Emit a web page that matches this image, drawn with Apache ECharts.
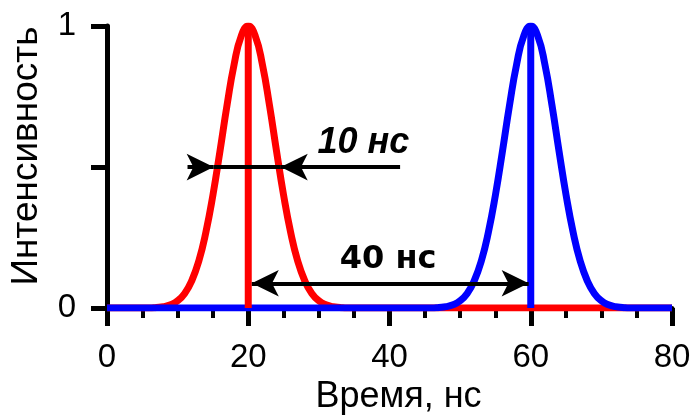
<!DOCTYPE html>
<html>
<head>
<meta charset="utf-8">
<script src="https://cdn.jsdelivr.net/npm/echarts@6/dist/echarts.min.js"></script>
<style>
  html, body { margin: 0; padding: 0; background: #fff; }
  #chart { width: 697px; height: 420px; }
</style>
</head>
<body>
<div id="chart"></div>
<script>
// время, нс и интенсивность (оценено по картинке)
var redTimes = [0, 6, 7, 8, 9, 10, 11, 12, 13, 14, 15, 16, 17, 18, 19, 20,
  21, 22, 23, 24, 25, 26, 27, 28, 29, 30, 31, 32, 33, 34, 80];
var redValues = [0, 0, 0.002, 0.005, 0.012, 0.026, 0.052, 0.097, 0.167, 0.269, 0.401, 0.557, 0.72, 0.864, 0.964, 1,
  0.964, 0.864, 0.72, 0.557, 0.401, 0.269, 0.167, 0.097, 0.052, 0.026, 0.012, 0.005, 0.002, 0, 0];
var blueTimes = [0, 46, 47, 48, 49, 50, 51, 52, 53, 54, 55, 56, 57, 58, 59, 60,
  61, 62, 63, 64, 65, 66, 67, 68, 69, 70, 71, 72, 73, 74, 80];
var blueValues = [0, 0, 0.002, 0.005, 0.012, 0.026, 0.052, 0.097, 0.167, 0.269, 0.401, 0.557, 0.72, 0.864, 0.964, 1,
  0.964, 0.864, 0.72, 0.557, 0.401, 0.269, 0.167, 0.097, 0.052, 0.026, 0.012, 0.005, 0.002, 0, 0];
var redPeak = 20;
var bluePeak = 60;
var xTicks = [0, 20, 40, 60, 80];
var yTicks = [0, 0.5, 1];
// стрелки: полуширина 10 нс и расстояние 40 нс
var fwhmLeft = [11.4, 15.1];
var fwhmRight = [41.5, 24.6];
var fwhmLevel = 0.5;
var gapArrow = [20.5, 59.7];
var gapLevel = 0.088;
var labels = [
  { text: "10 нс", at: [36.3, 0.585], italic: true },
  { text: "40 нс", at: [39.8, 0.172], italic: false }
];

function pairs(xs, ys) {
  return xs.map(function(x, i) { return [x, ys[i]]; });
}

var chart = echarts.init(document.getElementById("chart"));
var black = "#000";
var font = "Liberation Sans";

var option = {
  animation: false,
  grid: { left: 106, right: 25, top: 26, bottom: 110 },
  xAxis: {
    type: "value",
    min: xTicks[0],
    max: xTicks[xTicks.length - 1],
    interval: 20,
    name: "Время, нс",
    nameLocation: "middle",
    nameGap: 67,
    nameTextStyle: { fontFamily: font, fontSize: 36, color: black, padding: [0, 0, 0, 18] },
    axisLine: { show: true, onZero: false, lineStyle: { color: black, width: 5 } },
    axisTick: { show: true, length: 18, lineStyle: { color: black, width: 5 } },
    minorTick: { show: true, splitNumber: 4, length: 10, lineStyle: { color: black, width: 4 } },
    axisLabel: { margin: 33, fontFamily: font, fontSize: 33, color: black },
    splitLine: { show: false }
  },
  yAxis: {
    type: "value",
    min: yTicks[0],
    max: yTicks[yTicks.length - 1],
    interval: 0.5,
    name: "Интенсивность",
    nameLocation: "middle",
    nameGap: 62,
    nameTextStyle: { fontFamily: font, fontSize: 37, color: black, padding: [0, 0, 0, 22] },
    axisLine: { show: true, onZero: false, lineStyle: { color: black, width: 5 } },
    axisTick: { show: true, length: 16, lineStyle: { color: black, width: 5 } },
    axisLabel: {
      margin: 31, fontFamily: font, fontSize: 33, color: black,
      formatter: function(v) { return v === 0.5 ? "" : String(v); }
    },
    splitLine: { show: false }
  },
  series: [
    {
      name: "red",
      type: "line",
      data: pairs(redTimes, redValues),
      smooth: 0.5,
      symbol: "none",
      lineStyle: { color: "#ff0000", width: 7 },
      z: 2
    },
    {
      name: "blue",
      type: "line",
      data: pairs(blueTimes, blueValues),
      smooth: 0.5,
      symbol: "none",
      lineStyle: { color: "#0000ff", width: 7 },
      z: 3
    },
    {
      name: "redPeak",
      type: "line",
      data: [[redPeak, 0], [redPeak, 1]],
      symbol: "none",
      lineStyle: { color: "#ff0000", width: 7, cap: "butt" },
      z: 4
    },
    {
      name: "bluePeak",
      type: "line",
      data: [[bluePeak, 0], [bluePeak, 1]],
      symbol: "none",
      lineStyle: { color: "#0000ff", width: 7, cap: "butt" },
      z: 4
    },
    {
      name: "arrows",
      type: "line",
      data: [],
      z: 5,
      markLine: {
        silent: true,
        animation: false,
        symbolSize: [20, 27],
        lineStyle: { color: black, width: 4, type: "solid" },
        label: { show: false },
        data: [
          [{ coord: [fwhmLeft[0], fwhmLevel], symbol: "none" }, { coord: [fwhmLeft[1], fwhmLevel], symbol: "arrow" }],
          [{ coord: [fwhmLeft[1], fwhmLevel], symbol: "none" }, { coord: [fwhmRight[1], fwhmLevel], symbol: "none" }],
          [{ coord: [fwhmRight[0], fwhmLevel], symbol: "none" }, { coord: [fwhmRight[1], fwhmLevel], symbol: "arrow" }],
          [{ coord: [gapArrow[0], gapLevel], symbol: "arrow" }, { coord: [gapArrow[1], gapLevel], symbol: "arrow" }]
        ]
      }
    },
    {
      name: "labels",
      type: "scatter",
      symbolSize: 0,
      itemStyle: { opacity: 1 },
      z: 6,
      data: labels.map(function(l) {
        return {
          value: l.at,
          label: {
            show: true,
            position: "inside",
            formatter: l.text,
            fontFamily: l.italic ? font : "DejaVu Sans",
            fontWeight: "bold",
            fontStyle: l.italic ? "italic" : "normal",
            fontSize: l.italic ? 36 : 32,
            color: black,
            opacity: 1
          }
        };
      })
    }
  ]
};

chart.setOption(option);
</script>
</body>
</html>
